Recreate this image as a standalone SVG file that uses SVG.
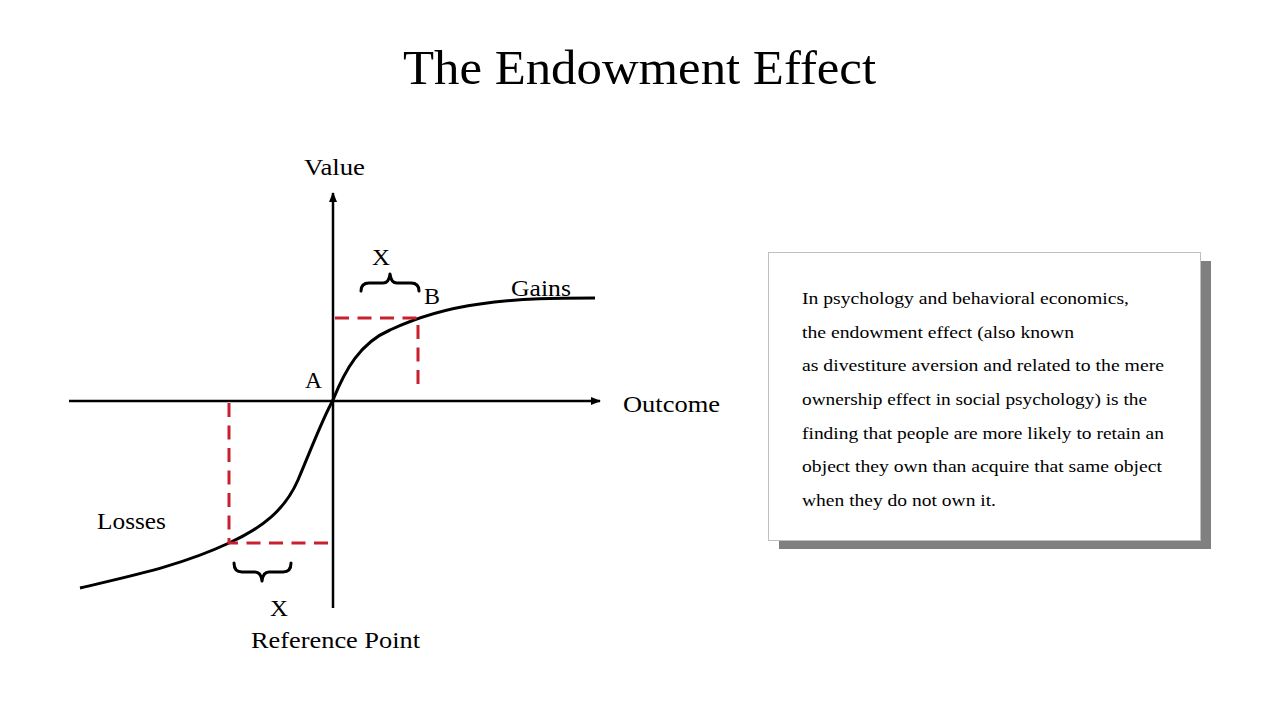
<svg xmlns="http://www.w3.org/2000/svg" width="1280" height="720" viewBox="0 0 1280 720">
<defs>
<style>
.t{font-family:"Liberation Serif","DejaVu Serif",serif;fill:#000}
.ax{stroke:#000;stroke-width:2.5;fill:none}
.dash{stroke:#C8202F;stroke-width:3;stroke-dasharray:14 8.5;fill:none}
.brace{stroke:#000;stroke-width:3;fill:none;stroke-linecap:round;stroke-linejoin:round}
</style>
<marker id="arr" viewBox="0 0 10 10" refX="9" refY="5" markerWidth="4" markerHeight="4" orient="auto-start-reverse" markerUnits="strokeWidth">
<path d="M0,1 L10,5 L0,9 Z" fill="#000"/>
</marker>
</defs>
<rect width="1280" height="720" fill="#fff"/>
<text class="t" x="403" y="84" font-size="48" textLength="473" lengthAdjust="spacingAndGlyphs">The Endowment Effect</text>
<g id="connectors">
<line class="ax" x1="333" y1="608" x2="333" y2="193" marker-end="url(#arr)"/>
<line class="ax" x1="69" y1="401" x2="600" y2="401" marker-end="url(#arr)"/>
<path d="M80,588 C130,576 180,566 229,543 C262,528 285,510 298,480 C312,447 322,420 333,400 C345,370 360,343 390,330 C420,316 450,308 480,304 C520,298 560,298 595,298" stroke="#000" stroke-width="3" fill="none"/>
<path class="dash" d="M335,318 H418 V390"/>
<path class="dash" d="M229,403 V543 H328"/>
<path class="brace" d="M361,291 Q361,283 369,283 H383 Q389,283 390,274 Q391,283 397,283 H411 Q419,283 419,291"/>
<path class="brace" d="M234,563 Q234,572 242,572 H255 Q261,572 262,581 Q263,572 269,572 H283 Q291,572 291,563"/>
</g>
<g id="labels" class="t" font-size="23">
<text x="304" y="175" textLength="61" lengthAdjust="spacingAndGlyphs">Value</text>
<text x="623" y="412" textLength="97" lengthAdjust="spacingAndGlyphs">Outcome</text>
<text x="511" y="296" textLength="60" lengthAdjust="spacingAndGlyphs">Gains</text>
<text x="424" y="304" textLength="16" lengthAdjust="spacingAndGlyphs">B</text>
<text x="305" y="388" textLength="17" lengthAdjust="spacingAndGlyphs">A</text>
<text x="372" y="265" textLength="18" lengthAdjust="spacingAndGlyphs">X</text>
<text x="97" y="529" textLength="69" lengthAdjust="spacingAndGlyphs">Losses</text>
<text x="270" y="616" textLength="18" lengthAdjust="spacingAndGlyphs">X</text>
<text x="251" y="648" textLength="169" lengthAdjust="spacingAndGlyphs">Reference Point</text>
</g>
<g id="textbox">
<rect x="779" y="261" width="432" height="288" fill="#808080"/>
<rect x="768.5" y="252.5" width="432" height="288" fill="#fff" stroke="#BFBFBF" stroke-width="1"/>
<g class="t" font-size="17.5" fill="#222">
<text x="802" y="304" textLength="327" lengthAdjust="spacingAndGlyphs">In psychology and behavioral economics,</text>
<text x="802" y="338" textLength="272" lengthAdjust="spacingAndGlyphs">the endowment effect (also known</text>
<text x="802" y="371" textLength="362" lengthAdjust="spacingAndGlyphs">as divestiture aversion and related to the mere</text>
<text x="802" y="405" textLength="345" lengthAdjust="spacingAndGlyphs">ownership effect in social psychology) is the</text>
<text x="802" y="439" textLength="362" lengthAdjust="spacingAndGlyphs">finding that people are more likely to retain an</text>
<text x="802" y="472" textLength="360" lengthAdjust="spacingAndGlyphs">object they own than acquire that same object</text>
<text x="802" y="506" textLength="194" lengthAdjust="spacingAndGlyphs">when they do not own it.</text>
</g>
</g>
</svg>
